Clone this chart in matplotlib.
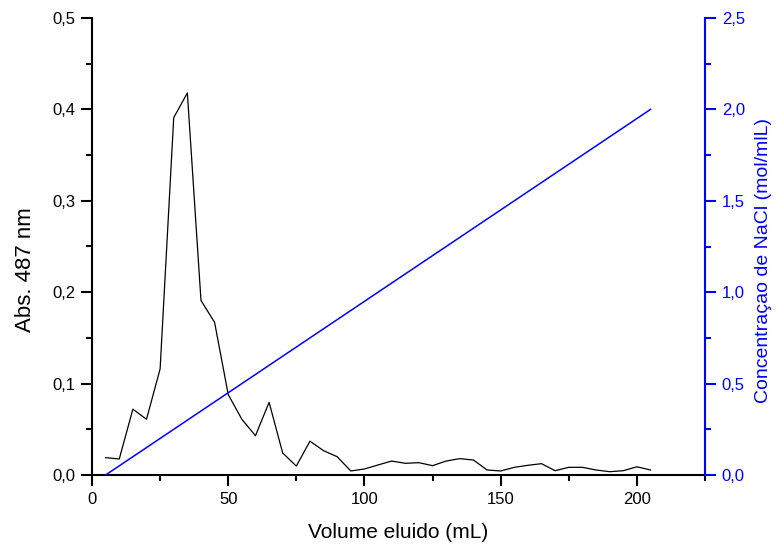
import matplotlib
matplotlib.use('Agg')
import matplotlib.pyplot as plt
from matplotlib.ticker import MultipleLocator, FuncFormatter

# eluted volume (mL) and absorbance at 487 nm
volume = [5, 10, 15, 20, 25, 30, 35, 40, 45, 50, 55, 60, 65, 70, 75, 80, 85, 90,
          95, 100, 105, 110, 115, 120, 125, 130, 135, 140, 145, 150, 155, 160,
          165, 170, 175, 180, 185, 190, 195, 200, 205]
absorb = [0.019, 0.0175, 0.072, 0.061, 0.116, 0.391, 0.418, 0.191, 0.167, 0.088,
          0.061, 0.043, 0.0795, 0.024, 0.0098, 0.037, 0.0266, 0.020, 0.0044,
          0.0066, 0.011, 0.0153, 0.0128, 0.0135, 0.0102, 0.0153, 0.0179, 0.0164,
          0.0055, 0.0044, 0.0084, 0.0106, 0.0124, 0.0047, 0.0084, 0.0084,
          0.0055, 0.0036, 0.0047, 0.009, 0.0055]

# NaCl gradient
grad_volume = [5, 205]
grad_conc = [0.0, 2.0]

BLUE = '#0000ff'

plt.rcParams['font.family'] = ['Liberation Sans', 'DejaVu Sans']


def comma(fmt):
    return FuncFormatter(lambda v, p: fmt.format(v).replace('.', ','))


fig = plt.figure(figsize=(7.77, 5.46), dpi=100)
ax = fig.add_axes([92/777, 71/546, 613/777, 457/546])
ax2 = ax.twinx()

ax.plot(volume, absorb, color='black', lw=0.9)
ax2.plot(grad_volume, grad_conc, color=BLUE, lw=1.1)

ax.set_xlim(0, 225)
ax.set_ylim(0, 0.5)
ax2.set_ylim(0, 2.5)

ax.xaxis.set_major_locator(MultipleLocator(50))
ax.xaxis.set_minor_locator(MultipleLocator(25))
ax.yaxis.set_major_locator(MultipleLocator(0.1))
ax.yaxis.set_minor_locator(MultipleLocator(0.05))
ax2.yaxis.set_major_locator(MultipleLocator(0.5))
ax2.yaxis.set_minor_locator(MultipleLocator(0.25))

ax.xaxis.set_major_formatter(comma('{:.0f}'))
ax.yaxis.set_major_formatter(comma('{:.1f}'))
ax2.yaxis.set_major_formatter(comma('{:.1f}'))

for a in (ax, ax2):
    a.spines['top'].set_visible(False)
    for s in a.spines.values():
        s.set_linewidth(1.5)

ax.spines['right'].set_visible(False)
ax2.spines['left'].set_visible(False)
ax2.spines['bottom'].set_visible(False)
ax2.spines['right'].set_color(BLUE)

ax.tick_params(which='major', direction='out', length=8, width=1.5, labelsize=12, pad=4)
ax.tick_params(which='minor', direction='out', length=4, width=1.5)
ax2.tick_params(which='major', direction='out', length=8, width=1.5, labelsize=12, pad=4,
                colors=BLUE)
ax2.tick_params(which='minor', direction='out', length=4, width=1.5, colors=BLUE)

ax.set_xlabel('Volume eluido (mL)', fontsize=15, labelpad=12)
ax.set_ylabel('Abs. 487 nm', fontsize=16)
ax2.set_ylabel('Concentraçao de NaCl (mol/mlL)', fontsize=14, color=BLUE)
ax.yaxis.set_label_coords(-0.092, 0.45)
ax2.yaxis.set_label_coords(1.081, 0.47)

fig.savefig('out.png', dpi=100)
